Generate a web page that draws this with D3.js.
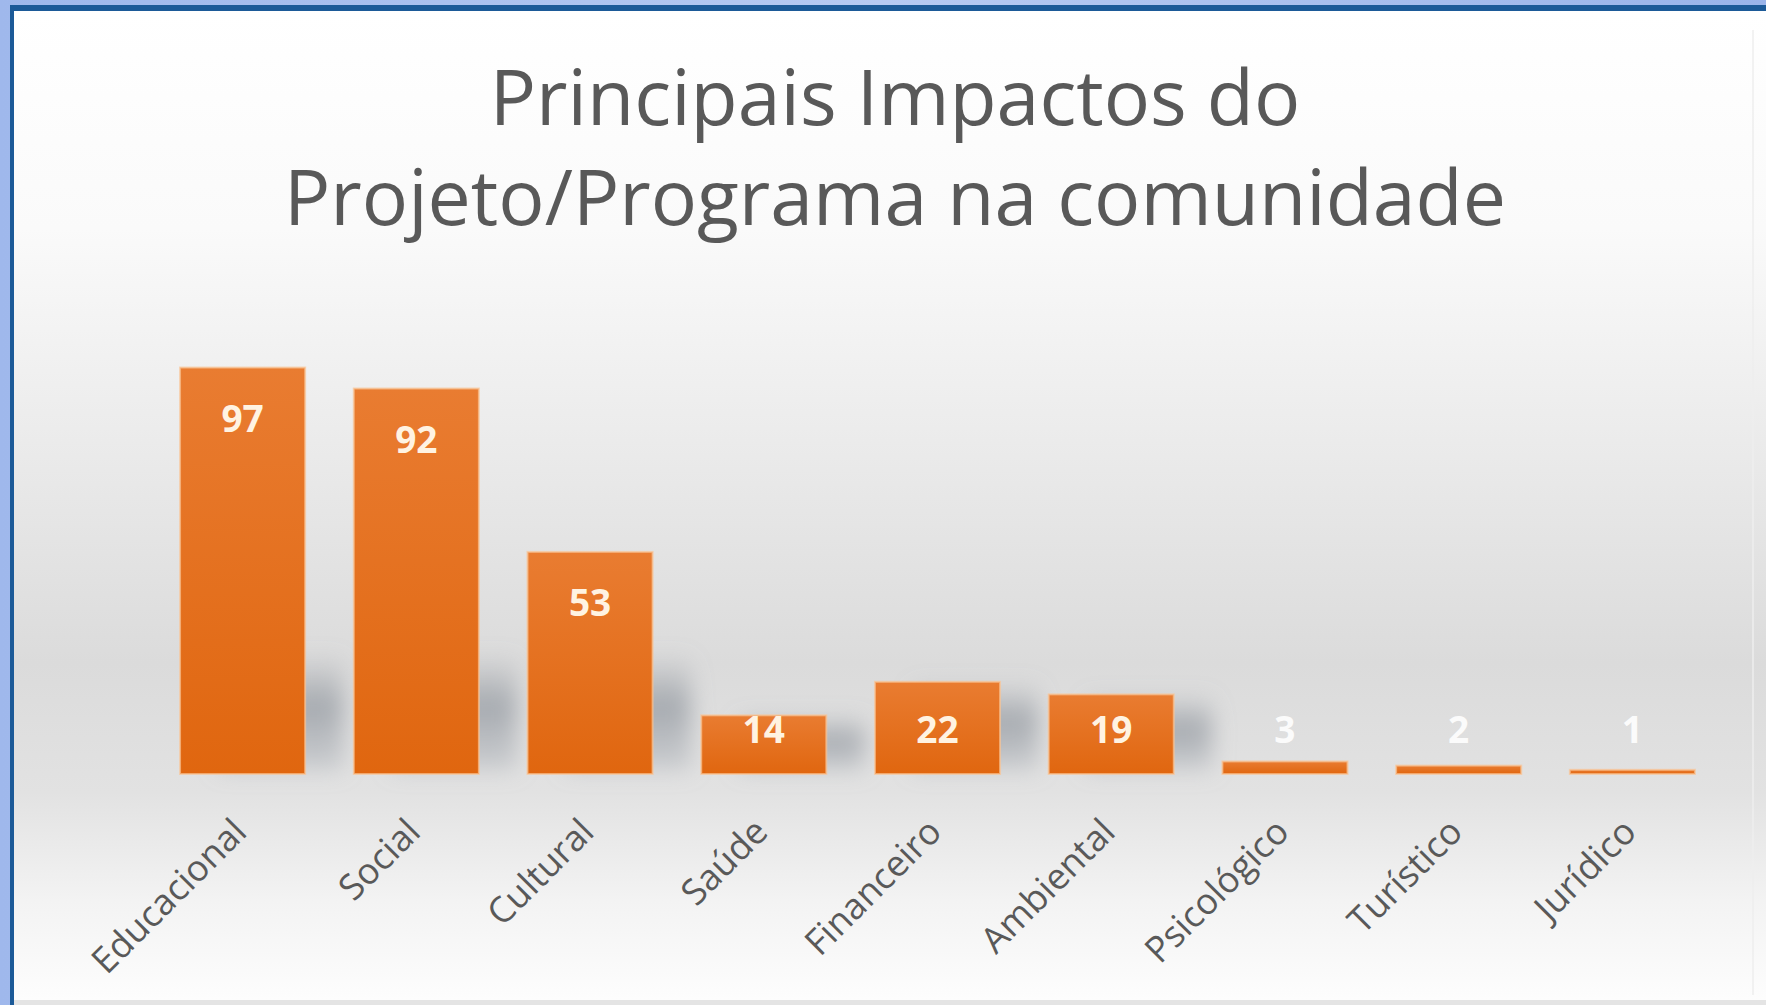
<!DOCTYPE html>
<html>
<head>
<meta charset="utf-8">
<script src="https://cdn.jsdelivr.net/npm/d3@7"></script>
<style>
  html, body { margin: 0; padding: 0; background: #a9c1f0; }
  svg { display: block; }
  text { font-family: "Open Sans", "DejaVu Sans", sans-serif; }
</style>
</head>
<body>
<div id="chart"></div>
<script>
// data
const categories = ["Educacional", "Social", "Cultural", "Saúde", "Financeiro",
                    "Ambiental", "Psicológico", "Turístico", "Jurídico"];
const values = [97, 92, 53, 14, 22, 19, 3, 2, 1];
const titleLines = ["Principais Impactos do", "Projeto/Programa na comunidade"];

const W = 1766, H = 1005;
const baseline = 774;

const svg = d3.select("#chart")
    .append("svg")
    .attr("width", W)
    .attr("height", H);

const defs = svg.append("defs");

// frame background
const pageGrad = defs.append("linearGradient").attr("id", "pageGrad")
    .attr("x1", 0).attr("x2", 1).attr("y1", 0).attr("y2", 0);
pageGrad.append("stop").attr("offset", 0).attr("stop-color", "#9fb8ec");
pageGrad.append("stop").attr("offset", 0.5).attr("stop-color", "#b7caf2");
pageGrad.append("stop").attr("offset", 1).attr("stop-color", "#9ab4ea");

const panelGrad = defs.append("linearGradient").attr("id", "panelGrad")
    .attr("x1", 0).attr("x2", 0).attr("y1", 0).attr("y2", 1);
[[0, "#ffffff"], [0.22, "#fafafa"], [0.45, "#eaeaea"], [0.66, "#dbdbdb"],
 [0.79, "#e2e2e2"], [0.9, "#f3f3f3"], [1, "#fdfdfd"]].forEach(s =>
  panelGrad.append("stop").attr("offset", s[0]).attr("stop-color", s[1]));

const barGrad = defs.append("linearGradient").attr("id", "barGrad")
    .attr("x1", 0).attr("x2", 0).attr("y1", 0).attr("y2", 1);
barGrad.append("stop").attr("offset", 0).attr("stop-color", "#e97c31");
barGrad.append("stop").attr("offset", 1).attr("stop-color", "#e0660f");

const shadowGrad = defs.append("linearGradient").attr("id", "shadowGrad")
    .attr("x1", 0).attr("x2", 0).attr("y1", 0).attr("y2", 1);
shadowGrad.append("stop").attr("offset", 0).attr("stop-color", "#8d939b").attr("stop-opacity", 0);
shadowGrad.append("stop").attr("offset", 0.45).attr("stop-color", "#8d939b").attr("stop-opacity", 0.7);
shadowGrad.append("stop").attr("offset", 1).attr("stop-color", "#a3a9b1").attr("stop-opacity", 0.35);

defs.append("filter").attr("id", "blur")
    .attr("x", "-50%").attr("y", "-50%").attr("width", "200%").attr("height", "200%")
  .append("feGaussianBlur").attr("stdDeviation", 11);

svg.append("rect").attr("width", W).attr("height", H).attr("fill", "url(#pageGrad)");
svg.append("rect").attr("x", 10).attr("y", 5).attr("width", W - 10).attr("height", H - 5)
    .attr("fill", "#1c5a98");
svg.append("rect").attr("x", 14).attr("y", 11).attr("width", W - 14).attr("height", 989)
    .attr("fill", "url(#panelGrad)");
svg.append("rect").attr("x", 14).attr("y", 1000).attr("width", W - 14).attr("height", 5)
    .attr("fill", "#e4e4e4");
svg.append("line").attr("x1", 1753).attr("x2", 1753).attr("y1", 30).attr("y2", 995)
    .attr("stroke", "#eeeeee").attr("stroke-width", 1.5);

// scales
const x = d3.scaleBand()
    .domain(categories)
    .range([154, 1721])
    .paddingInner(0.28)
    .paddingOuter(0.15);

const y = d3.scaleLinear()
    .domain([0, 100])
    .range([baseline, 355]);

// title, sized to the reference width
const title = svg.append("g").attr("fill", "#595959").attr("text-anchor", "middle");
const t2 = title.append("text").attr("x", 895).attr("y", 225)
    .attr("font-size", 70).text(titleLines[1]);
const fitSize = 70 * 1222 / t2.node().getComputedTextLength();
t2.attr("font-size", fitSize);
title.append("text").attr("x", 895).attr("y", 125)
    .attr("font-size", fitSize).text(titleLines[0]);

const data = categories.map((c, i) => ({ cat: c, value: values[i] }));

// cast shadows behind the bars (only the taller ones throw a visible one)
const shadowTop = d => Math.max(y(d.value), baseline - 120);
svg.append("g")
  .selectAll("rect")
  .data(data.filter(d => d.value > 5))
  .join("rect")
    .attr("x", d => x(d.cat) + 38)
    .attr("width", x.bandwidth())
    .attr("y", shadowTop)
    .attr("height", d => baseline - 4 - shadowTop(d))
    .attr("fill", "url(#shadowGrad)")
    .attr("filter", "url(#blur)");

// bars
svg.append("g")
  .selectAll("rect")
  .data(data)
  .join("rect")
    .attr("x", d => x(d.cat))
    .attr("y", d => y(d.value))
    .attr("width", x.bandwidth())
    .attr("height", d => baseline - y(d.value))
    .attr("fill", "url(#barGrad)")
    .attr("stroke", "#f9c596")
    .attr("stroke-width", 2)
    .attr("stroke-opacity", 0.7);

// data labels
svg.append("g")
  .selectAll("text")
  .data(data)
  .join("text")
    .attr("x", d => x(d.cat) + x.bandwidth() / 2)
    .attr("y", d => Math.min(y(d.value) + 51, 730))
    .attr("dy", "0.36em")
    .attr("text-anchor", "middle")
    .attr("font-size", 37)
    .attr("font-weight", "bold")
    .attr("fill", d => d.value < 5 ? "#fbfbfb" : "#fff3e2")
    .text(d => d.value);

// category labels
const xAxis = d3.axisBottom(x).tickSize(0).tickPadding(0);
const axisG = svg.append("g")
    .attr("transform", `translate(0,${baseline})`)
    .call(xAxis);
axisG.select(".domain").remove();
axisG.selectAll("text")
    .attr("font-size", 36)
    .attr("fill", "#595959")
    .attr("text-anchor", "end")
    .attr("dy", null)
    .attr("y", 0)
    .attr("transform", "translate(6,60) rotate(-45)");
</script>
</body>
</html>
